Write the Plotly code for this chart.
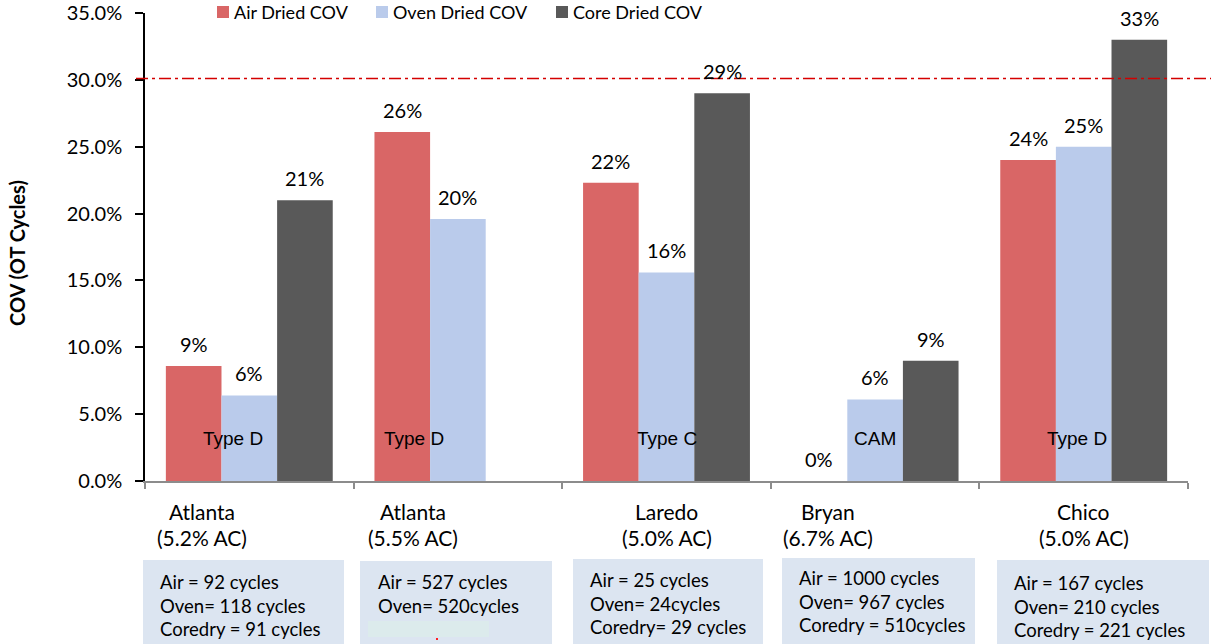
import plotly.graph_objects as go

# ---- data ----
sites = ["Atlanta", "Atlanta", "Laredo", "Bryan", "Chico"]
ac_content = ["(5.2% AC)", "(5.5% AC)", "(5.0% AC)", "(6.7% AC)", "(5.0% AC)"]
mix_types = ["Type D", "Type D", "Type C", "CAM", "Type D"]

series_names = ["Air Dried COV", "Oven Dried COV", "Core Dried COV"]
air_cov = [8.6, 26.1, 22.3, 0.0, 24.0]      # COV, %
oven_cov = [6.4, 19.6, 15.6, 6.1, 25.0]
core_cov = [21.0, None, 29.0, 9.0, 33.0]

cycle_notes = [
    ["Air = 92 cycles", "Oven= 118 cycles", "Coredry = 91 cycles"],
    ["Air = 527 cycles", "Oven= 520cycles"],
    ["Air = 25 cycles", "Oven= 24cycles", "Coredry= 29 cycles"],
    ["Air = 1000 cycles", "Oven= 967 cycles", "Coredry = 510cycles"],
    ["Air = 167 cycles", "Oven= 210 cycles", "Coredry = 221 cycles"],
]
cov_limit = 30.1

y_ticks = [0, 5, 10, 15, 20, 25, 30, 35]
y_tick_text = [f"{v:.1f}%" for v in y_ticks]

# ---- styling / layout ----
colors = ["#d96666", "#bacbeb", "#595959"]
FONT = "Lato"
W, H = 1211, 644
L, R, T, B = 145, 1188, 13, 481     # plot area edges in pixels
BARGAP = 0.2


def fx(p):
    return (p - L) / (R - L)


def fy(p):
    return (B - p) / (B - T)


fig = go.Figure()
all_series = [air_cov, oven_cov, core_cov]
x_idx = list(range(len(sites)))
for name, vals, c in zip(series_names, all_series, colors):
    fig.add_trace(go.Bar(
        x=x_idx, y=vals, name=name,
        marker=dict(color=c, line=dict(width=0)),
        showlegend=False,
    ))

annotations = []
shapes = []

# value labels above bars
n_series = len(all_series)
bar_w = (1 - BARGAP) / n_series
for j, vals in enumerate(all_series):
    for i, v in enumerate(vals):
        if v is None:
            continue
        annotations.append(dict(
            x=i + (j - (n_series - 1) / 2) * bar_w, y=v, xref="x", yref="y",
            text=f"{v:.0f}%", showarrow=False, yanchor="bottom",
            yshift=8, font=dict(family=FONT, size=20, color="#000000"),
        ))

# mix type labels inside the bars
mix_dx = [-0.08, -0.21, 0.0, 0.0, -0.03]
for i, (t, dx) in enumerate(zip(mix_types, mix_dx)):
    annotations.append(dict(
        x=i + dx, y=fy(438), xref="x", yref="paper", text=t, showarrow=False,
        xanchor="center", yanchor="middle",
        font=dict(family="Liberation Sans", size=19, color="#000000"),
    ))

# site / asphalt content labels under the axis
site_dx = [-0.227, -0.215, 0.0, -0.225, 0.0]
for i, (s, ac, dx) in enumerate(zip(sites, ac_content, site_dx)):
    for text, py in ((s, 511), (ac, 537)):
        annotations.append(dict(
            x=i + dx, y=fy(py), xref="x", yref="paper", text=text,
            showarrow=False, xanchor="center", yanchor="middle",
            font=dict(family=FONT, size=21, color="#000000"),
        ))

# cycle count boxes
boxes = [(143, 344, 560), (360, 552, 561), (573, 763, 559), (782, 975, 558), (997, 1209, 560)]
text_left = [158, 376, 588, 797, 1012]
first_line = [582, 582, 580, 578, 583]
for (x0, x1, top), tl, fl, notes in zip(boxes, text_left, first_line, cycle_notes):
    shapes.append(dict(type="rect", xref="paper", yref="paper",
                       x0=fx(x0), x1=fx(x1), y0=fy(H), y1=fy(top),
                       fillcolor="#dce5f1", line=dict(width=0), layer="below"))
    for k, line in enumerate(notes):
        annotations.append(dict(
            x=fx(tl), y=fy(fl + k * 23.5), xref="paper", yref="paper",
            xanchor="left", yanchor="middle", text=line, showarrow=False,
            font=dict(family=FONT, size=18.5, color="#000000"),
        ))
# pale patch and stray mark inside the second box
shapes.append(dict(type="rect", xref="paper", yref="paper",
                   x0=fx(368), x1=fx(489), y0=fy(637), y1=fy(621),
                   fillcolor="#dcebec", line=dict(width=0)))
shapes.append(dict(type="rect", xref="paper", yref="paper",
                   x0=fx(436), x1=fx(438), y0=fy(640), y1=fy(638),
                   fillcolor="#ff2020", line=dict(width=0)))

# 30% COV limit line
shapes.append(dict(type="line", xref="paper", yref="y",
                   x0=fx(136), x1=fx(1211), y0=cov_limit, y1=cov_limit,
                   line=dict(color="#d40000", width=1.5, dash="12px,4px,3px,4px")))

# legend drawn as swatches + labels
legend_x = [217, 376, 556]
for name, c, lx in zip(series_names, colors, legend_x):
    shapes.append(dict(type="rect", xref="paper", yref="paper",
                       x0=fx(lx), x1=fx(lx + 12), y0=fy(18), y1=fy(6),
                       fillcolor=c, line=dict(width=0)))
    annotations.append(dict(
        x=fx(lx + 15), y=fy(12), xref="paper", yref="paper",
        xanchor="left", yanchor="middle",
        text=name, showarrow=False,
        font=dict(family=FONT, size=18, color="#000000"),
    ))

# y axis title
annotations.append(dict(
    x=fx(17), y=fy(253), xref="paper", yref="paper", text="<b>COV (OT Cycles)</b>",
    textangle=-90, showarrow=False, xanchor="center", yanchor="middle",
    font=dict(family=FONT, size=20, color="#000000"),
))

fig.update_layout(
    width=W, height=H,
    margin=dict(l=L, r=W - R, t=T, b=H - B, pad=0, autoexpand=False),
    paper_bgcolor="white", plot_bgcolor="white",
    barmode="group", bargap=BARGAP, bargroupgap=0,
    font=dict(family=FONT, size=20, color="#000000"),
    annotations=annotations, shapes=shapes,
    xaxis=dict(
        range=[-0.5, len(sites) - 0.5], showgrid=False, zeroline=False,
        tickvals=[i - 0.5 for i in range(len(sites) + 1)], showticklabels=False,
        ticks="outside", ticklen=6, tickwidth=1.5, tickcolor="#8c8c8c",
        showline=True, linecolor="#8c8c8c", linewidth=1.5, automargin=False,
    ),
    yaxis=dict(
        range=[0, 35], tickvals=y_ticks, ticktext=y_tick_text,
        showgrid=False, zeroline=False, showline=True, linecolor="#000000",
        linewidth=1.5, ticks="outside", ticklen=8, tickwidth=1.5,
        tickcolor="#000000", ticklabelstandoff=9, automargin=False,
        tickfont=dict(family=FONT, size=20, color="#000000"),
    ),
)

fig.write_html("out.html")
